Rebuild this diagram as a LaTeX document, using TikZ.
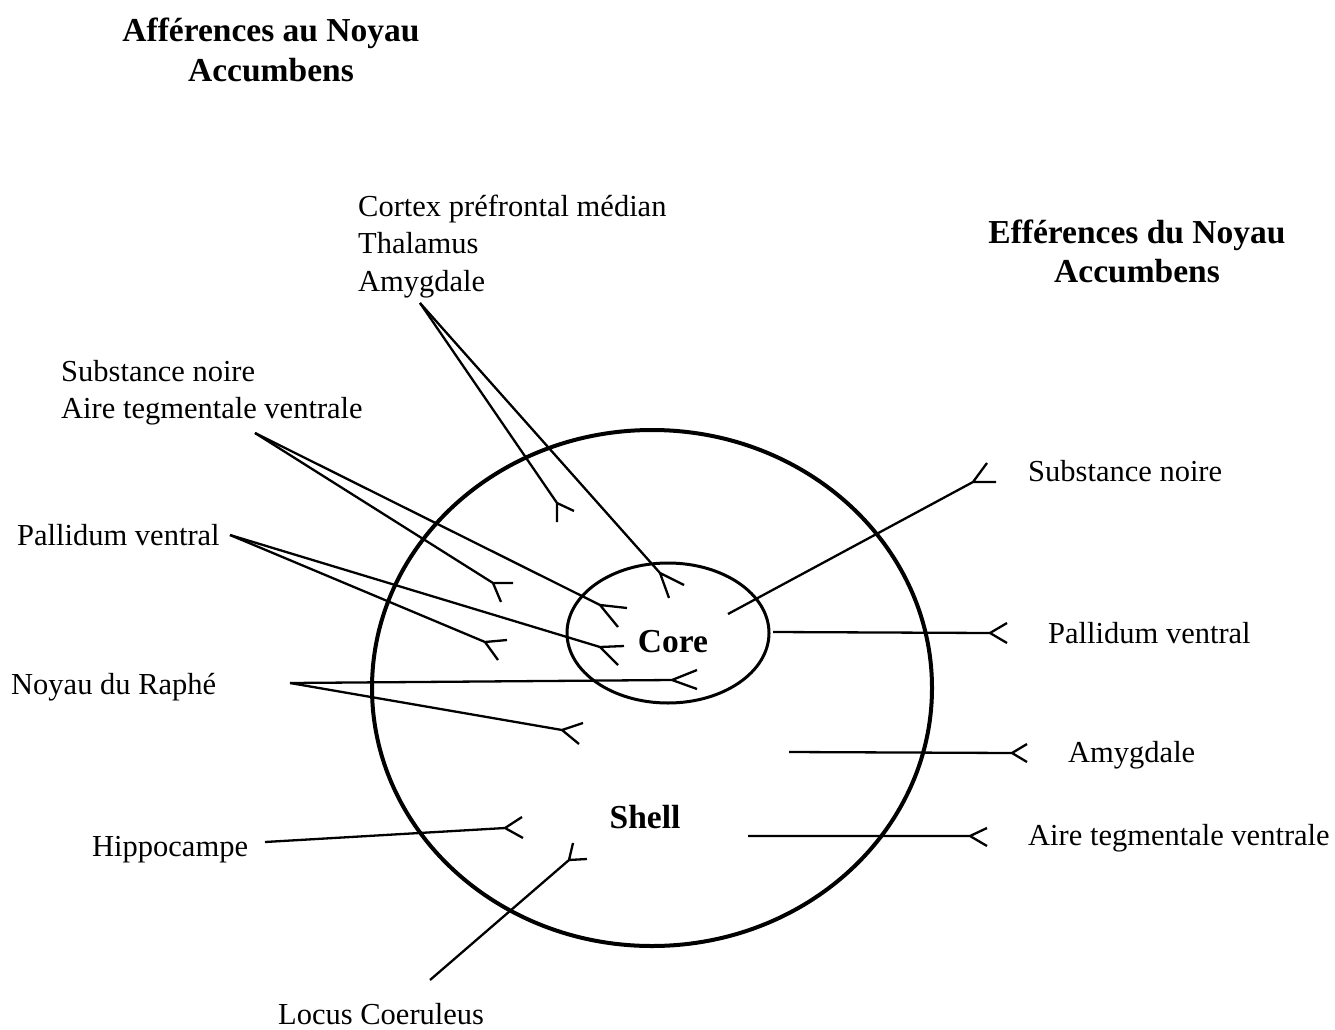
\documentclass[tikz,border=0pt]{standalone}
\usepackage{fontspec}
\setmainfont{Liberation Serif}
\begin{document}
\begin{tikzpicture}[x=1pt,y=-1pt,
  lbl/.style={anchor=base west, inner sep=0pt, font=\fontsize{30.5}{36}\selectfont},
  ttl/.style={anchor=base, inner sep=0pt, font=\fontsize{33.5}{38}\selectfont\bfseries},
  zone/.style={anchor=base, inner sep=0pt, font=\fontsize{33.5}{38}\selectfont\bfseries},
  ln/.style={line width=2.3pt},
  outerring/.style={line width=4pt},
  innerring/.style={line width=3pt}]
\useasboundingbox (0,0) rectangle (1335,1030);

% titles
\node[ttl] (t1a) at (271,42) {Afférences au Noyau};
\node[ttl] (t1b) at (271,82) {Accumbens};
\node[ttl] (t2a) at (1137,243) {Efférences du Noyau};
\node[ttl] (t2b) at (1137,282) {Accumbens};

% nucleus
\draw[outerring] (652,688) ellipse [x radius=280, y radius=258];
\draw[innerring] (668,633) ellipse [x radius=101, y radius=70];
\node[zone] (core) at (673,652) {Core};
\node[zone] (shell) at (645,828) {Shell};

% afferent labels
\node[lbl] (ctx) at (358,216) {Cortex préfrontal médian};
\node[lbl] (tha) at (358,253.5) {Thalamus};
\node[lbl] (amy) at (358,291) {Amygdale};
\node[lbl] (sn) at (61,381) {Substance noire};
\node[lbl] (atv) at (61,418.5) {Aire tegmentale ventrale};
\node[lbl] (pv) at (17,545) {Pallidum ventral};
\node[lbl] (ra) at (11,694) {Noyau du Raphé};
\node[lbl] (hip) at (92,856) {Hippocampe};
\node[lbl] (lc) at (278,1024) {Locus Coeruleus};

% efferent labels
\node[lbl] (esn) at (1028,481) {Substance noire};
\node[lbl] (epv) at (1048,643) {Pallidum ventral};
\node[lbl] (eam) at (1068,762) {Amygdale};
\node[lbl] (eatv) at (1028,845) {Aire tegmentale ventrale};

% origins
\coordinate (oCtx) at (420,303);
\coordinate (oSn) at (255,433);
\coordinate (oPv) at (230,535);
\coordinate (oRa) at (290,683);
\coordinate (oHip) at (265,842);
\coordinate (oLc) at (430,980);
\coordinate (oeSn) at (728,614);
\coordinate (oePv) at (773,632);
\coordinate (oeAm) at (789,752);
\coordinate (oeAtv) at (748,836);

% terminals
\coordinate (fCtxS) at (557,503);
\coordinate (fCtxC) at (660,573);
\coordinate (fSnS) at (493,583);
\coordinate (fSnC) at (600,605);
\coordinate (fPvS) at (485,642);
\coordinate (fPvC) at (600,647);
\coordinate (fRaC) at (672,680);
\coordinate (fRaS) at (562,730);
\coordinate (fHip) at (505,828);
\coordinate (fLc) at (569,860);
\coordinate (feSn) at (973,482);
\coordinate (fePv) at (990,633);
\coordinate (feAm) at (1012,753);
\coordinate (feAtv) at (970,836);

% afferent connectors
\draw[ln] (oCtx) -- (fCtxS) (fCtxS) -- ++(17,8) (fCtxS) -- ++(0,19);
\draw[ln] (oCtx) -- (fCtxC) (fCtxC) -- ++(24,12) (fCtxC) -- ++(9,25);
\draw[ln] (oSn) -- (fSnS) (fSnS) -- ++(20,0) (fSnS) -- ++(8,19);
\draw[ln] (oSn) -- (fSnC) (fSnC) -- ++(27,3) (fSnC) -- ++(18,22);
\draw[ln] (oPv) -- (fPvS) (fPvS) -- ++(22,-2) (fPvS) -- ++(13,18);
\draw[ln] (oPv) -- (fPvC) (fPvC) -- ++(24,-1) (fPvC) -- ++(18,18);
\draw[ln] (oRa) -- (fRaC) (fRaC) -- ++(25,-10) (fRaC) -- ++(25,9);
\draw[ln] (oRa) -- (fRaS) (fRaS) -- ++(21,-7) (fRaS) -- ++(17,14);
\draw[ln] (oHip) -- (fHip) (fHip) -- ++(17,-11) (fHip) -- ++(18,10);
\draw[ln] (oLc) -- (fLc) (fLc) -- ++(4,-17) (fLc) -- ++(18,-1);

% efferent connectors
\draw[ln] (oeSn) -- (feSn) (feSn) -- ++(14,-19) (feSn) -- ++(23,0);
\draw[ln] (oePv) -- (fePv) (fePv) -- ++(17,-10) (fePv) -- ++(17,10);
\draw[ln] (oeAm) -- (feAm) (feAm) -- ++(15,-9) (feAm) -- ++(15,9);
\draw[ln] (oeAtv) -- (feAtv) (feAtv) -- ++(17,-8) (feAtv) -- ++(17,10);
\end{tikzpicture}
\end{document}
